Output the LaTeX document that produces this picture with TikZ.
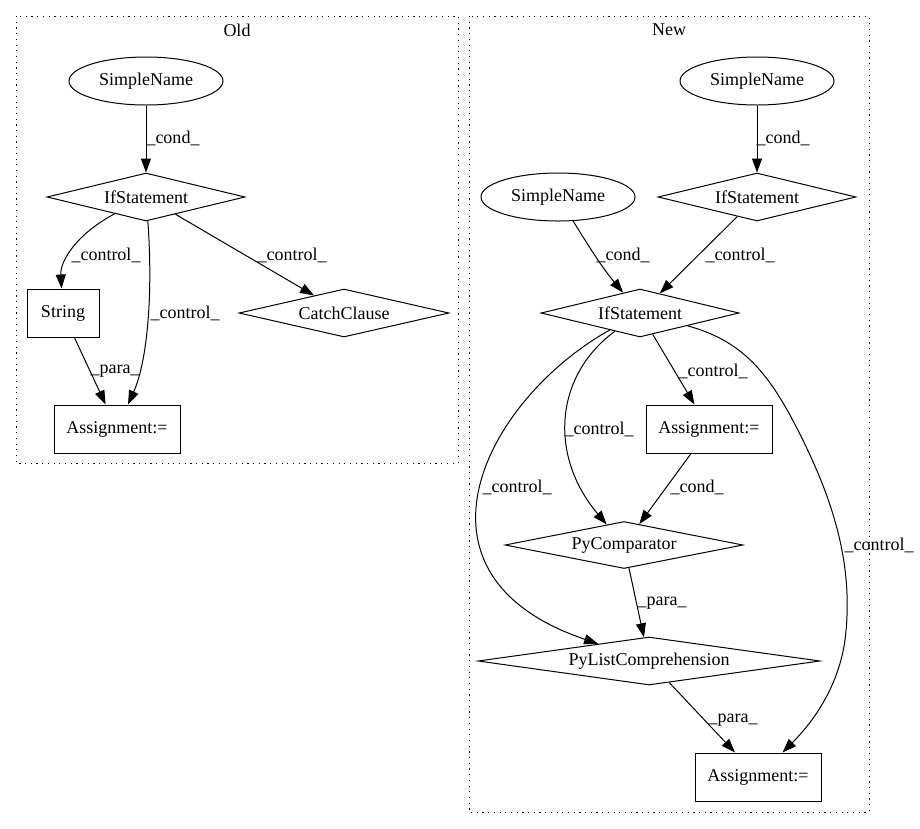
\documentclass[tikz,border=0pt]{standalone}
\usepackage{fontspec}
\setmainfont{Liberation Serif}
\usetikzlibrary{shapes.geometric,arrows.meta}
\begin{document}
\begin{tikzpicture}[x=1pt,y=-1pt,
  every node/.style={font=\fontsize{18}{20}\selectfont},
  ell/.style={ellipse,draw,line width=1pt,inner sep=0pt,minimum width=154pt,minimum height=48pt},
  box/.style={rectangle,draw,line width=1pt,inner sep=0pt,minimum height=48pt},
  dia/.style={diamond,draw,line width=1pt,inner sep=0pt},
  lbl/.style={inner sep=0pt},
  edge/.style={draw,line width=1pt,-{Triangle[length=14pt,width=10pt]}},
  clus/.style={draw,line width=1pt,dash pattern=on 1.2pt off 4.5pt}]
\useasboundingbox (0,0) rectangle (920,828);
% clusters
\draw[clus] (16,16) rectangle (458,463);
\node[lbl] (oldt) at (237,30) {Old};
\draw[clus] (469,16) rectangle (869,812);
\node[lbl] (newt) at (669,30) {New};
% Old nodes
\node[ell] (osn) at (146,81) {SimpleName};
\node[dia,minimum width=198pt,minimum height=48pt,aspect=4.1] (oif) at (146,197) {IfStatement};
\node[box,minimum width=72pt] (ostr) at (63,313) {String};
\node[dia,minimum width=210pt,minimum height=48pt,aspect=4.4] (occ) at (344,313) {CatchClause};
\node[box,minimum width=126pt] (oas) at (117,429) {Assignment:=};
% Old edges
\draw[edge] (osn) -- (oif);
\node[lbl] (l1) at (173,138) {\_cond\_};
\draw[edge] (oif) .. controls (75,235) and (60,262) .. (ostr);
\node[lbl] (l2) at (106,255) {\_control\_};
\draw[edge] (oif) .. controls (153,290) and (148,360) .. (oas);
\node[lbl] (l3) at (185,313) {\_control\_};
\draw[edge] (oif) -- (occ);
\node[lbl] (l4) at (292,255) {\_control\_};
\draw[edge] (ostr) -- (oas);
\node[lbl] (l5) at (115,371) {\_para\_};
% New nodes
\node[ell] (nsn1) at (757,81) {SimpleName};
\node[dia,minimum width=198pt,minimum height=48pt,aspect=4.1] (nif1) at (757,197) {IfStatement};
\node[ell] (nsn2) at (558,197) {SimpleName};
\node[dia,minimum width=198pt,minimum height=48pt,aspect=4.1] (nif2) at (640,313) {IfStatement};
\node[box,minimum width=126pt] (nas1) at (709,429) {Assignment:=};
\node[dia,minimum width=238pt,minimum height=47pt,aspect=5.06] (npc) at (624,545) {PyComparator};
\node[dia,minimum width=342pt,minimum height=48pt,aspect=7.1] (npl) at (649,661) {PyListComprehension};
\node[box,minimum width=126pt] (nas2) at (758,777) {Assignment:=};
% New edges
\draw[edge] (nsn1) -- (nif1);
\node[lbl] (m1) at (783,138) {\_cond\_};
\draw[edge] (nsn2) .. controls (585,240) and (600,265) .. (nif2);
\node[lbl] (m2) at (623,255) {\_cond\_};
\draw[edge] (nif1) -- (nif2);
\node[lbl] (m3) at (740,255) {\_control\_};
\draw[edge] (nif2) -- (nas1);
\node[lbl] (m4) at (713,371) {\_control\_};
\draw[edge] (nif2) .. controls (555,375) and (548,455) .. (npc);
\node[lbl] (m5) at (599,429) {\_control\_};
\draw[edge] (nif2) .. controls (485,400) and (395,575) .. (npl);
\node[lbl] (m6) at (517,487) {\_control\_};
\coordinate (c1) at (790,415);
\coordinate (c2) at (845,640);
\draw[edge] (nif2) .. controls (740,340) and (765,370) .. (c1)
  .. controls (830,490) and (855,560) .. (c2)
  .. controls (838,690) and (810,725) .. (nas2);
\node[lbl] (m7) at (879,545) {\_control\_};
\draw[edge] (nas1) -- (npc);
\node[lbl] (m8) at (697,487) {\_cond\_};
\draw[edge] (npc) -- (npl);
\node[lbl] (m9) at (662,603) {\_para\_};
\draw[edge] (npl) -- (nas2);
\node[lbl] (m10) at (733,720) {\_para\_};
\end{tikzpicture}
\end{document}
